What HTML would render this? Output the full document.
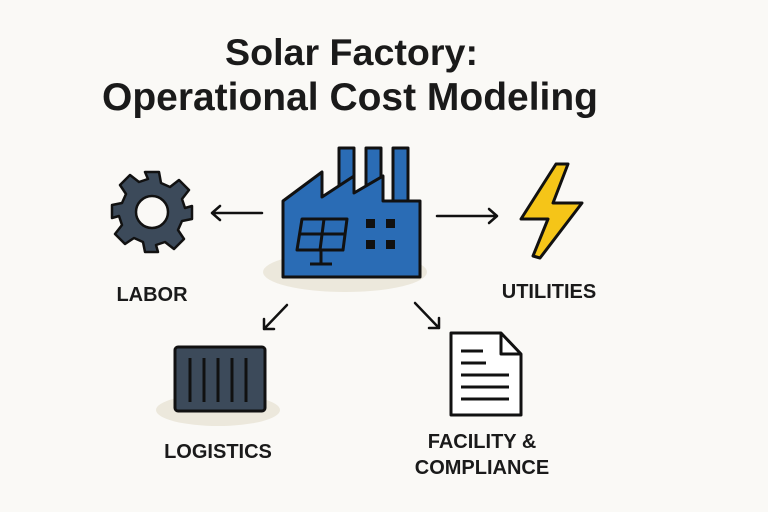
<!DOCTYPE html>
<html><head><meta charset="utf-8"><style>
html,body{margin:0;padding:0;background:#faf9f6;}
svg{display:block}
text{font-family:"Liberation Sans",sans-serif;fill:#1a1a1a}
</style></head><body>
<svg width="768" height="512" viewBox="0 0 768 512">
<rect width="768" height="512" fill="#faf9f6"/>
<text x="225" y="65" font-size="37" font-weight="bold" textLength="253" lengthAdjust="spacingAndGlyphs">Solar Factory:</text>
<text x="102" y="110" font-size="39" font-weight="bold" textLength="496" lengthAdjust="spacingAndGlyphs">Operational Cost Modeling</text>
<!-- factory -->
<ellipse cx="345" cy="272" rx="82" ry="20" fill="#ece8dc"/>
<g stroke="#111" stroke-width="3" stroke-linejoin="round" fill="#2a6cb5">
<rect x="339" y="148" width="15" height="45"/>
<rect x="366" y="148" width="15" height="40"/>
<rect x="393" y="148" width="15" height="55"/>
<path d="M283,201 L322,172 L322,197 L354,176 L354,193 L383,176 L383,201 L420,201 L420,277 L283,277 Z"/>
</g>
<g stroke="#111" stroke-width="3" fill="none" stroke-linejoin="round">
<path d="M302,219 L347,219 L343,250 L297,250 Z"/>
<path d="M324,219 L320,250 M300,234 L345,234 M321,250 L321,264 M310,264 L332,264"/>
</g>
<g fill="#111"><rect x="366" y="219" width="9" height="9"/><rect x="386" y="219" width="9" height="9"/><rect x="366" y="240" width="9" height="9"/><rect x="386" y="240" width="9" height="9"/></g>
<!-- arrows -->
<g stroke="#111" stroke-width="2.5" fill="none" stroke-linecap="round" stroke-linejoin="round">
<path d="M262,213 L212,213 M220,206 L212,213 L220,220"/>
<path d="M437,216 L497,216 M489,209 L497,216 L489,223"/>
<path d="M287,305 L264,329 M264,319 L264,329 L274,329"/>
<path d="M415,303 L439,328 M439,318 L439,328 L429,328"/>
</g>
<!-- gear -->
<g transform="translate(152,212)">
<g fill="#3c4a5a" stroke="#111" stroke-width="2.5" stroke-linejoin="round">
<path d="M-7,-40 L7,-40 L9,-29 L18,-25 L27,-32 L37,-22 L30,-13 L33,-4 L40,-6 L40,7 L30,9 L26,18 L32,27 L22,37 L13,30 L4,33 L6,40 L-7,40 L-9,30 L-18,26 L-27,32 L-37,22 L-30,13 L-33,4 L-40,6 L-40,-7 L-30,-9 L-26,-18 L-32,-27 L-22,-37 L-13,-30 L-4,-33 Z"/>
</g>
<circle r="16" fill="#faf9f6" stroke="#111" stroke-width="2.5"/>
</g>
<text x="152" y="301" font-size="20" text-anchor="middle" font-weight="bold">LABOR</text>
<!-- bolt -->
<path d="M556,164 L568,164 L553,203 L582,203 L540,258 L533,256 L548,219 L521,219 Z" fill="#f5c518" stroke="#111" stroke-width="3" stroke-linejoin="round"/>
<text x="549" y="298" font-size="20" text-anchor="middle" font-weight="bold">UTILITIES</text>
<!-- container -->
<ellipse cx="218" cy="410" rx="62" ry="16" fill="#ece8dc"/>
<rect x="175" y="347" width="90" height="64" rx="3" fill="#3c4a5a" stroke="#111" stroke-width="3"/>
<g stroke="#111" stroke-width="3"><path d="M190,358V402M204,358V402M218,358V402M232,358V402M246,358V402"/></g>
<text x="218" y="458" font-size="20" text-anchor="middle" font-weight="bold">LOGISTICS</text>
<!-- document -->
<path d="M451,333 L501,333 L521,354 L521,415 L451,415 Z" fill="#fff" stroke="#111" stroke-width="3" stroke-linejoin="round"/>
<path d="M501,333 L501,354 L521,354" fill="none" stroke="#111" stroke-width="3" stroke-linejoin="round"/>
<g stroke="#111" stroke-width="3"><path d="M461,351H483M461,363H486M461,375H509M461,387H509M461,399H509"/></g>
<text x="482" y="448" font-size="20" text-anchor="middle" font-weight="bold">FACILITY &amp;</text>
<text x="482" y="474" font-size="20" text-anchor="middle" font-weight="bold">COMPLIANCE</text>
</svg>
</body></html>
